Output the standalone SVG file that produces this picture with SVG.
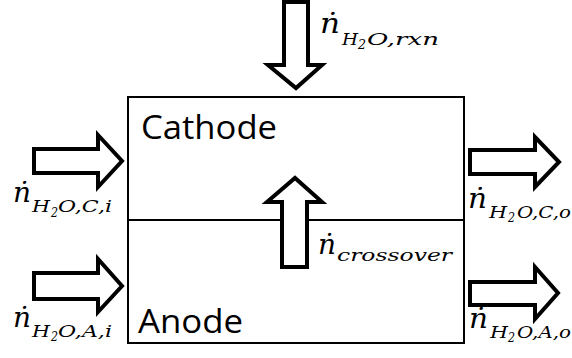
<svg xmlns="http://www.w3.org/2000/svg" width="572" height="358" viewBox="0 0 572 358">
<style>
.box{fill:#fff;stroke:#000;stroke-width:2}
.div{stroke:#000;stroke-width:2;fill:none}
.arr{fill:#fff;stroke:#000;stroke-width:4;stroke-linejoin:miter;stroke-miterlimit:10}
.lbl{font-family:"Open Sans","Noto Sans",sans-serif;font-size:33px;fill:#000}
.m{font-family:"DejaVu Serif","Liberation Serif",serif;font-style:italic;fill:#000}
.n{font-size:27px}
.s{font-size:16px}
.ss{font-size:12px}
</style>
<g id="box">
<rect class="box" x="128" y="97" width="336" height="246"/>
<line class="div" x1="128" y1="220" x2="464" y2="220"/>
</g>
<g id="cathode"><text class="lbl" x="141" y="139" textLength="136" lengthAdjust="spacingAndGlyphs">Cathode</text></g>
<g id="anode"><text class="lbl" x="138" y="333" textLength="105" lengthAdjust="spacingAndGlyphs">Anode</text></g>
<g id="connectors">
<polygon class="arr" points="284,2 308,2 308,65 322,65 296,88 268,65 284,65"/>
<polygon class="arr" points="34,149 98,149 98,135 122,161 98,187 98,173 34,173"/>
<polygon class="arr" points="34,273 98,273 98,259 122,286 98,312 98,299 34,299"/>
<polygon class="arr" points="470,150 535,150 535,137 559,162 535,187 535,174 470,174"/>
<polygon class="arr" points="470,282 535,282 535,267 558,293 535,319 535,305 470,305"/>
<polygon class="arr" points="282,267 282,202 267,202 295,178 322,202 307,202 307,267"/>
</g>
<g id="label-rxn"><text class="m"><tspan class="n" x="320" y="33" textLength="20" lengthAdjust="spacingAndGlyphs">ṅ</tspan><tspan class="s" x="342" y="45" textLength="16" lengthAdjust="spacingAndGlyphs">H</tspan><tspan class="ss" x="358" y="49" textLength="8" lengthAdjust="spacingAndGlyphs">2</tspan><tspan class="s" x="367" y="45" textLength="72" lengthAdjust="spacingAndGlyphs">O,rxn</tspan></text></g>
<g id="label-ci"><text class="m"><tspan class="n" x="13" y="202" textLength="18" lengthAdjust="spacingAndGlyphs">ṅ</tspan><tspan class="s" x="32" y="212" textLength="18" lengthAdjust="spacingAndGlyphs">H</tspan><tspan class="ss" x="51" y="217" textLength="7" lengthAdjust="spacingAndGlyphs">2</tspan><tspan class="s" x="58" y="212" textLength="54" lengthAdjust="spacingAndGlyphs">O,C,i</tspan></text></g>
<g id="label-ai"><text class="m"><tspan class="n" x="13" y="327" textLength="18" lengthAdjust="spacingAndGlyphs">ṅ</tspan><tspan class="s" x="32" y="337" textLength="18" lengthAdjust="spacingAndGlyphs">H</tspan><tspan class="ss" x="51" y="341" textLength="7" lengthAdjust="spacingAndGlyphs">2</tspan><tspan class="s" x="58" y="337" textLength="54" lengthAdjust="spacingAndGlyphs">O,A,i</tspan></text></g>
<g id="label-co"><text class="m"><tspan class="n" x="468" y="208" textLength="19" lengthAdjust="spacingAndGlyphs">ṅ</tspan><tspan class="s" x="489" y="218" textLength="18" lengthAdjust="spacingAndGlyphs">H</tspan><tspan class="ss" x="508" y="222" textLength="7" lengthAdjust="spacingAndGlyphs">2</tspan><tspan class="s" x="517" y="218" textLength="54" lengthAdjust="spacingAndGlyphs">O,C,o</tspan></text></g>
<g id="label-ao"><text class="m"><tspan class="n" x="469" y="328" textLength="19" lengthAdjust="spacingAndGlyphs">ṅ</tspan><tspan class="s" x="490" y="338" textLength="18" lengthAdjust="spacingAndGlyphs">H</tspan><tspan class="ss" x="508" y="342" textLength="7" lengthAdjust="spacingAndGlyphs">2</tspan><tspan class="s" x="517" y="338" textLength="54" lengthAdjust="spacingAndGlyphs">O,A,o</tspan></text></g>
<g id="label-crossover"><text class="m"><tspan class="n" x="318" y="254" textLength="18" lengthAdjust="spacingAndGlyphs">ṅ</tspan><tspan class="s" x="337" y="261" textLength="115" lengthAdjust="spacingAndGlyphs">crossover</tspan></text></g>
</svg>
